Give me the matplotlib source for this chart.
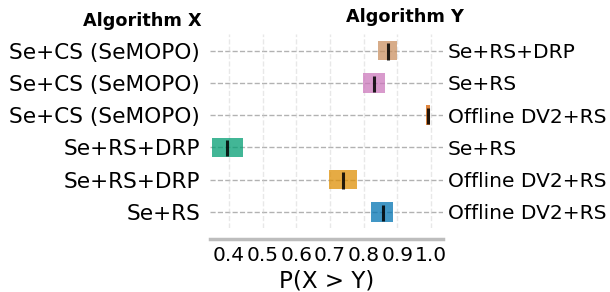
import matplotlib
matplotlib.use("Agg")
import matplotlib.pyplot as plt

# pairs listed bottom -> top
algo_x = ['Se+RS', 'Se+RS+DRP', 'Se+RS+DRP',
          'Se+CS (SeMOPO)', 'Se+CS (SeMOPO)', 'Se+CS (SeMOPO)']
algo_y = ['Offline DV2+RS', 'Offline DV2+RS', 'Se+RS',
          'Offline DV2+RS', 'Se+RS', 'Se+RS+DRP']
prob = [0.856, 0.739, 0.394, 0.992, 0.831, 0.872]
lower = [0.822, 0.698, 0.349, 0.986, 0.799, 0.843]
upper = [0.888, 0.781, 0.442, 0.998, 0.864, 0.900]
colors = ['#0173b2', '#de8f05', '#029e73', '#d55e00', '#cc78bc', '#ca9161']
xticks = [0.4, 0.5, 0.6, 0.7, 0.8, 0.9, 1.0]

fig = plt.figure(figsize=(6.1, 2.92), dpi=100)
ax = fig.add_axes([0.344, 0.219, 0.382, 0.663])

h = 0.6
for i in range(len(prob)):
    ax.axhline(i, color='gray', ls='--', lw=1, alpha=0.6, zorder=1)
    ax.barh(y=i, width=upper[i] - lower[i], height=h, left=lower[i],
            color=colors[i], alpha=0.75, zorder=2)
    ax.vlines(x=prob[i], ymin=i - 7.5 * h / 16, ymax=i + 6 * h / 16,
              color='k', alpha=0.85, lw=2.2, zorder=3)

ax.set_xlim(0.3435, 1.035)
ax.set_ylim(-0.5, len(prob) - 0.5)
ax.set_yticks(range(len(prob)))
ax.set_yticklabels(algo_x)
ax.tick_params(axis='y', length=0, pad=7, labelsize=15.6)

ax2 = ax.twinx()
ax2.set_ylim(ax.get_ylim())
ax2.set_yticks(range(len(prob)))
ax2.set_yticklabels(algo_y)
ax2.tick_params(axis='y', length=0, pad=3.5, labelsize=14.5)

ax.set_xticks(xticks)
ax.set_xticklabels([str(t) for t in xticks])
ax.tick_params(axis='x', length=0, pad=5, labelsize=14.5)
ax.grid(axis='x', ls='--', color='#cccccc', alpha=0.45, lw=1)
ax.set_xlabel('P(X > Y)', fontsize=16.6, labelpad=3.5)

for a in (ax, ax2):
    for s in ['left', 'right', 'top', 'bottom']:
        a.spines[s].set_visible(False)
ax.spines['bottom'].set_visible(True)
ax.spines['bottom'].set_position(('outward', 8))
ax.spines['bottom'].set_color('#bdbdbd')
ax.spines['bottom'].set_linewidth(2.5)

fig.text(0.33, 0.927, 'Algorithm X', fontsize=12.7, fontweight='bold',
         ha='right', va='center')
fig.text(0.664, 0.942, 'Algorithm Y', fontsize=12.7, fontweight='bold',
         ha='center', va='center')

fig.savefig('out.png', dpi=100)
